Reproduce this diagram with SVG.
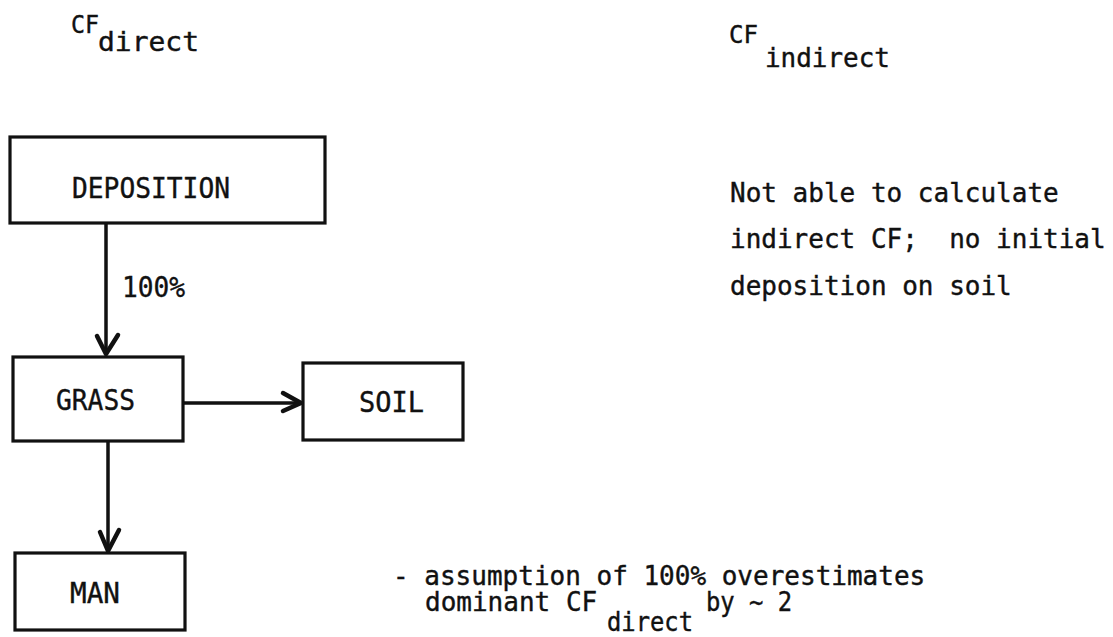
<svg xmlns="http://www.w3.org/2000/svg" width="1113" height="637" viewBox="0 0 1113 637">
  <style>
    .box { fill: #fff; stroke: #111; stroke-width: 3.2; }
    .t { font-family: "DejaVu Sans Mono", "Liberation Mono", monospace; font-size: 26px; fill: #111; stroke: #111; stroke-width: 0.4; }
    .lbl { font-size: 29px; }
    .sup { font-size: 25px; }
    .wire { fill: none; stroke: #111; stroke-width: 3.5; }
    .head { fill: none; stroke: #111; stroke-width: 4.5; stroke-linecap: round; stroke-linejoin: round; }
  </style>
  <rect width="1113" height="637" fill="#fff"/>

  <!-- column headings -->
  <g id="heading-direct">
    <text class="t sup" x="71" y="33" textLength="28" lengthAdjust="spacingAndGlyphs">CF</text>
    <text class="t" x="98" y="51" textLength="101" lengthAdjust="spacingAndGlyphs">direct</text>
  </g>
  <g id="heading-indirect">
    <text class="t sup" x="729" y="43" textLength="29" lengthAdjust="spacingAndGlyphs">CF</text>
    <text class="t" x="765" y="67" textLength="125" lengthAdjust="spacingAndGlyphs">indirect</text>
  </g>

  <!-- compartments -->
  <g id="deposition">
    <rect class="box" x="10" y="137" width="315" height="86"/>
    <text class="t lbl" x="72" y="198" textLength="158" lengthAdjust="spacingAndGlyphs">DEPOSITION</text>
  </g>
  <g id="grass">
    <rect class="box" x="13" y="357" width="170" height="84"/>
    <text class="t lbl" x="56" y="410" textLength="79" lengthAdjust="spacingAndGlyphs">GRASS</text>
  </g>
  <g id="soil">
    <rect class="box" x="303" y="363" width="160" height="77"/>
    <text class="t lbl" x="359" y="412" textLength="65" lengthAdjust="spacingAndGlyphs">SOIL</text>
  </g>
  <g id="man">
    <rect class="box" x="15" y="553" width="170" height="77"/>
    <text class="t lbl" x="70" y="603" textLength="50" lengthAdjust="spacingAndGlyphs">MAN</text>
  </g>

  <!-- transfer paths -->
  <g id="connectors">
    <line class="wire" x1="106" y1="223" x2="106" y2="354"/>
    <polyline class="head" points="97,336 106,354 118,335"/>
    <text class="t lbl" x="122" y="297" textLength="63" lengthAdjust="spacingAndGlyphs">100%</text>

    <line class="wire" x1="183" y1="403" x2="301" y2="403"/>
    <polyline class="head" points="283,393 301,403 283,411"/>

    <line class="wire" x1="108" y1="441" x2="108" y2="551"/>
    <polyline class="head" points="100,532 108,551 119,530"/>
  </g>

  <!-- notes -->
  <g id="note-indirect">
    <text class="t" x="730" y="202">Not able to calculate</text>
    <text class="t" x="730" y="248" xml:space="preserve">indirect CF;  no initial</text>
    <text class="t" x="730" y="295">deposition on soil</text>
  </g>
  <g id="note-assumption">
    <text class="t" x="393" y="585">- assumption of 100% overestimates</text>
    <text class="t" x="425" y="611">dominant CF</text>
    <text class="t" x="607" y="631" textLength="86" lengthAdjust="spacingAndGlyphs">direct</text>
    <text class="t" x="706" y="611" textLength="86" lengthAdjust="spacingAndGlyphs">by ~ 2</text>
  </g>
</svg>
